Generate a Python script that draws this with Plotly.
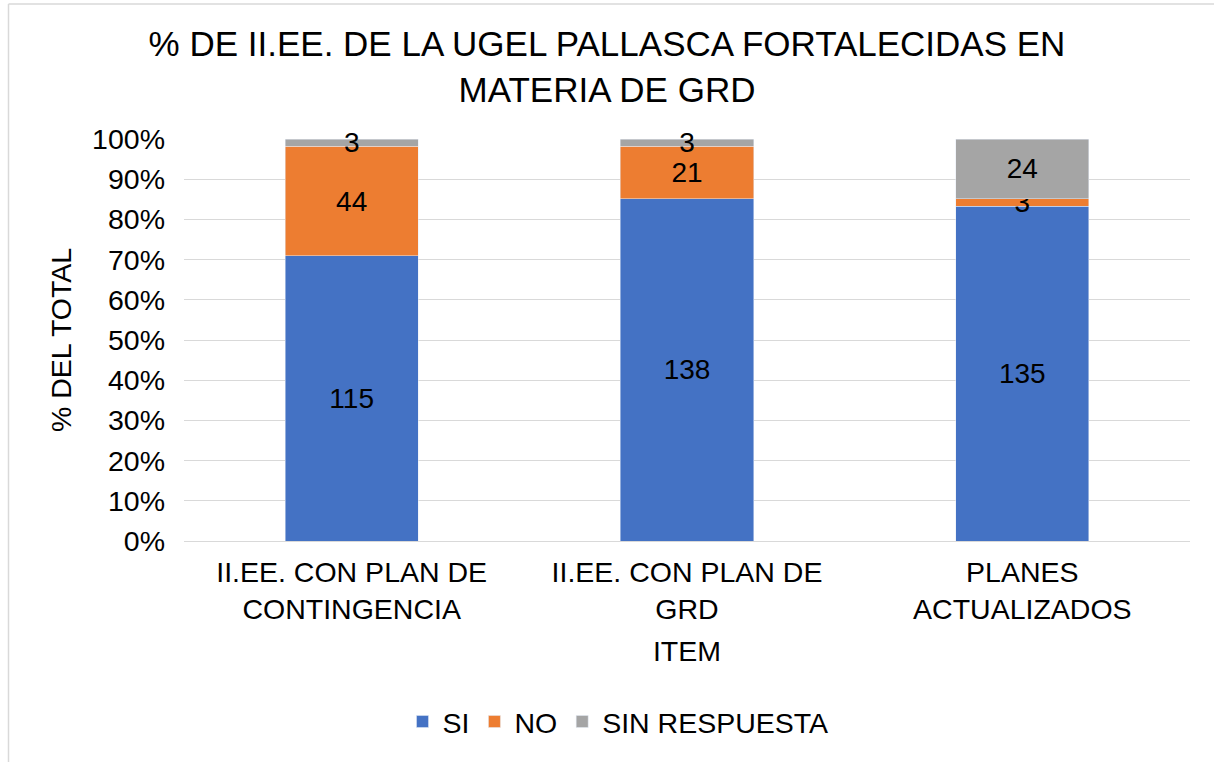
import plotly.graph_objects as go

categories = ["II.EE. CON PLAN DE<br>CONTINGENCIA", "II.EE. CON PLAN DE<br>GRD", "PLANES<br>ACTUALIZADOS"]
si = [115, 138, 135]
no = [44, 21, 3]
sin_resp = [3, 3, 24]

series = [("SI", si, "#4472C4"), ("NO", no, "#ED7D31"), ("SIN RESPUESTA", sin_resp, "#A5A5A5")]

FS = 28.5

fig = go.Figure()
for name, vals, color in series:
    fig.add_trace(go.Bar(
        x=categories, y=vals, name=name, marker_color=color,
        text=[str(v) for v in vals], textposition="inside", textangle=0,
        insidetextanchor="middle", constraintext="none", cliponaxis=False,
        textfont=dict(size=28, color="#000000"),
    ))

W, H = 1214, 762
L, R, T, B = 184, 24, 139, 221
pw, ph = W - L - R, H - T - B

def px_x(p):
    return (p - L) / pw

def px_y(p):
    return (H - B - p) / ph

fig.update_layout(
    width=W, height=H,
    barmode="stack", barnorm="percent", bargap=0.603,
    font=dict(family="Liberation Sans, Arial, sans-serif", size=FS, color="#000000"),
    uniformtext=dict(minsize=28, mode="show"),
    title=dict(text="% DE II.EE. DE LA UGEL PALLASCA FORTALECIDAS EN<br>MATERIA DE GRD",
               x=0.5, xanchor="center", y=1 - 56 / H, yanchor="middle",
               font=dict(size=35, color="#000000")),
    margin=dict(l=L, r=R, t=T, b=B),
    plot_bgcolor="white", paper_bgcolor="white",
    legend=dict(orientation="h", x=px_x(618), xanchor="center", y=px_y(722), yanchor="middle",
                font=dict(size=FS), traceorder="normal", itemwidth=30),
    xaxis=dict(title=dict(text="ITEM", font=dict(size=FS), standoff=16),
               tickfont=dict(size=FS), showline=True, linecolor="#D9D9D9", ticks="",
               ticklabelstandoff=6),
    yaxis=dict(title=dict(text="% DEL TOTAL", font=dict(size=FS), standoff=12),
               range=[0, 100], dtick=10, ticksuffix="%", tickfont=dict(size=FS),
               gridcolor="#D9D9D9", zeroline=False, ticks="", ticklabelstandoff=18),
    shapes=[
        dict(type="line", xref="paper", yref="paper", x0=px_x(8.5), x1=px_x(1214), y0=px_y(4), y1=px_y(4),
             line=dict(color="#D9D9D9", width=1.5)),
        dict(type="line", xref="paper", yref="paper", x0=px_x(8.5), x1=px_x(8.5), y0=px_y(4), y1=px_y(762),
             line=dict(color="#D9D9D9", width=1.5)),
    ],
)

fig.write_html("out.html", config={"displayModeBar": False},
               post_script="document.body.style.margin='0';")
